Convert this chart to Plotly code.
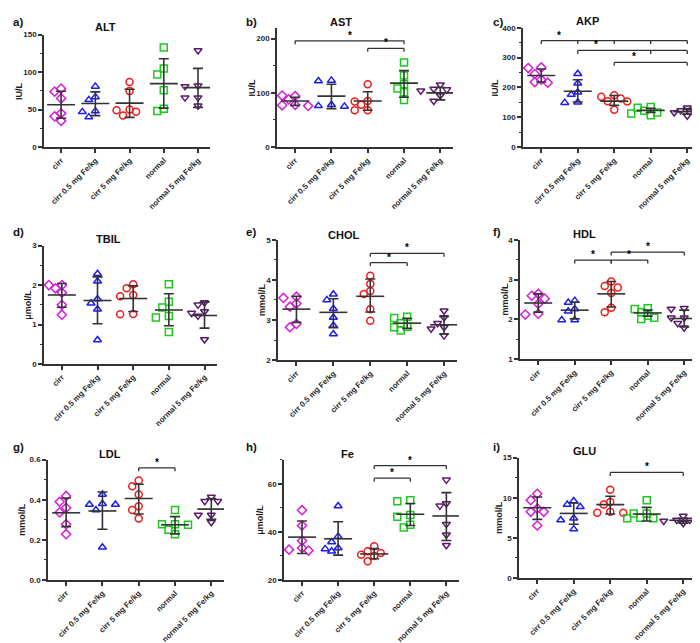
import plotly.graph_objects as go

W, H = 700, 643
groups = ["cirr", "cirr 0.5 mg Fe/kg", "cirr 5 mg Fe/kg", "normal", "normal 5 mg Fe/kg"]

# ---------------- data ----------------
alt_vals = [[78, 74, 65, 45, 41, 35], [81, 67, 63, 48, 47, 40], [87, 75, 50, 49, 47, 42],
            [133, 105, 97, 76, 51, 48], [129, 82, 81, 66, 66, 55]]
alt_mean = [56.5, 58.2, 58.7, 84.7, 79.4]
alt_hi = [74.5, 73.7, 77.2, 117.8, 105.0]
alt_lo = [38.4, 42.0, 39.7, 52.0, 53.0]

ast_vals = [[94, 95, 88, 78, 77, 76], [123, 122, 78, 76, 75, 77], [116, 85, 84, 78, 68, 68],
            [156, 132, 116, 108, 101, 87], [115, 107, 106, 104, 95, 85]]
ast_mean = [85, 94, 85, 118, 100]
ast_hi = [92, 116, 102, 141, 110]
ast_lo = [77, 71, 68, 92, 87]

akp_vals = [[267, 265, 245, 226, 218, 216], [246, 214, 184, 176, 150, 149], [174, 169, 163, 154, 153, 125],
            [134, 132, 122, 116, 113, 107], [132, 123, 121, 116, 110, 105]]
akp_mean = [240, 187, 154, 123, 119]
akp_hi = [262, 226, 173, 130, 129]
akp_lo = [218, 151, 140, 116, 110]

tbil_vals = [[2.0, 2.0, 1.92, 1.81, 1.5, 1.25], [2.29, 2.1, 1.65, 1.54, 1.39, 0.61], [2.02, 1.92, 1.75, 1.72, 1.27, 1.26],
             [2.02, 1.58, 1.43, 1.22, 1.18, 0.81], [1.56, 1.5, 1.33, 1.29, 1.22, 0.62]]
tbil_mean = [1.75, 1.61, 1.66, 1.37, 1.23]
tbil_hi = [2.04, 2.21, 1.98, 1.78, 1.57]
tbil_lo = [1.44, 1.02, 1.33, 0.97, 0.91]

chol_vals = [[3.58, 3.55, 3.41, 3.33, 2.9, 2.82], [3.64, 3.5, 3.28, 3.06, 2.86, 2.65], [4.1, 3.9, 3.72, 3.65, 3.27, 2.98],
             [3.08, 3.05, 2.92, 2.83, 2.82, 2.74], [3.23, 3.06, 2.92, 2.82, 2.78, 2.61]]
chol_mean = [3.27, 3.19, 3.59, 2.92, 2.88]
chol_hi = [3.59, 3.53, 4.02, 3.04, 3.09]
chol_lo = [2.94, 2.81, 3.2, 2.79, 2.65]

hdl_vals = [[2.64, 2.59, 2.52, 2.39, 2.14, 2.12], [2.47, 2.42, 2.26, 2.2, 1.98, 1.98], [2.95, 2.84, 2.8, 2.66, 2.29, 2.18],
            [2.28, 2.26, 2.18, 2.09, 2.04, 2.01], [2.28, 2.26, 2.04, 2.04, 1.9, 1.79]]
hdl_mean = [2.41, 2.23, 2.64, 2.16, 2.02]
hdl_hi = [2.64, 2.43, 2.95, 2.23, 2.23]
hdl_lo = [2.18, 2.01, 2.31, 2.08, 1.81]

ldl_vals = [[0.419, 0.39, 0.36, 0.337, 0.278, 0.228], [0.426, 0.38, 0.376, 0.376, 0.349, 0.163],
            [0.496, 0.467, 0.426, 0.368, 0.349, 0.307], [0.349, 0.278, 0.278, 0.275, 0.25, 0.228],
            [0.414, 0.393, 0.393, 0.324, 0.324, 0.288]]
ldl_mean = [0.335, 0.344, 0.406, 0.275, 0.353]
ldl_hi = [0.409, 0.439, 0.477, 0.316, 0.406]
ldl_lo = [0.266, 0.253, 0.329, 0.23, 0.302]

fe_vals = [[49.0, 42.6, 36.3, 33.3, 32.6, 32.2], [50.7, 38.1, 35.8, 33.3, 32.9, 31.9], [34.0, 31.9, 31.2, 30.5, 29.9, 27.8],
           [53.1, 52.7, 47.0, 46.3, 42.9, 41.8], [61.6, 51.8, 50.8, 43.2, 38.8, 34.4]]
fe_mean = [37.8, 37.1, 30.8, 47.3, 46.6]
fe_hi = [44.5, 44.2, 33.0, 51.8, 56.3]
fe_lo = [31.0, 30.3, 28.8, 42.6, 36.4]

glu_vals = [[10.5, 9.7, 8.66, 8.25, 8.25, 6.54], [9.6, 9.15, 8.87, 7.44, 7.23, 6.09], [11.0, 9.48, 9.15, 8.25, 8.13, 8.13],
            [9.69, 8.05, 8.05, 7.52, 7.44, 7.44], [7.72, 7.23, 7.23, 7.1, 7.03, 6.82]]
glu_mean = [8.75, 8.05, 9.15, 7.97, 7.19]
glu_hi = [10.1, 9.36, 10.18, 8.8, 7.44]
glu_lo = [7.3, 6.7, 7.97, 7.1, 6.83]

# significance comparisons: (first group, last group, groups with ticks, level, star position)
ast_sig = [(0, 3, [0, 3], 196, 1.5), (2, 3, [2, 3], 182, 2.5)]
akp_sig = [(0, 4, [0, 1, 2, 3, 4], 357, 0.5), (1, 4, [1, 3, 4], 324, 1.5), (2, 4, [2, 4], 284, 2.55)]
chol_sig = [(2, 4, [2, 4], 4.66, 3.0), (2, 3, [2, 3], 4.43, 2.5)]
hdl_sig = [(1, 2, [1, 2], 3.49, 1.5), (2, 4, [2, 4], 3.69, 3.0), (2, 3, [2, 3], 3.49, 2.5)]
ldl_sig = [(2, 3, [2, 3], 0.559, 2.5)]
fe_sig = [(2, 4, [2, 4], 67.5, 3.0), (2, 3, [2, 3], 62.3, 2.5)]
glu_sig = [(2, 4, [2, 4], 13.16, 3.0)]

# ---------------- styling / layout ----------------
colors = ["#D61ED6", "#1C1CF2", "#F21A1A", "#1FC81F", "#5C1A6E"]
symbols = ["diamond-open", "triangle-up-open", "circle-open", "square-open", "triangle-down-open"]
TXT = "#1f1f1f"
AX = "#333333"
FONT = "Liberation Sans, Arial, sans-serif"

panels = [
    dict(lab="a)", title="ALT", ytitle="IU/L", vals=alt_vals, mean=alt_mean, hi=alt_hi, lo=alt_lo, sig=[],
         yr=[0, 150], dt=50, t0=0, mdt=25, fmt="", px=(36, 202, 23, 137), lpos=(3, 10), tpos=(97, 15), ytp=11),
    dict(lab="b)", title="AST", ytitle="IU/L", vals=ast_vals, mean=ast_mean, hi=ast_hi, lo=ast_lo, sig=ast_sig,
         yr=[0, 220], dt=100, t0=0, mdt=50, fmt="", px=(269, 445, 16, 137), lpos=(236, 10), tpos=(333, 10), ytp=244),
    dict(lab="c)", title="AKP", ytitle="IU/L", vals=akp_vals, mean=akp_mean, hi=akp_hi, lo=akp_lo, sig=akp_sig,
         yr=[0, 400], dt=100, t0=0, mdt=50, fmt="", px=(515, 692, 16, 137), lpos=(483, 10), tpos=(579, 9), ytp=487),
    dict(lab="d)", title="TBIL", ytitle="μmol/L", vals=tbil_vals, mean=tbil_mean, hi=tbil_hi, lo=tbil_lo, sig=[],
         yr=[0, 3], dt=1, t0=0, mdt=0.5, fmt="", px=(36, 209, 237, 357), lpos=(3, 223), tpos=(100, 230), ytp=20),
    dict(lab="e)", title="CHOL", ytitle="mmol/L", vals=chol_vals, mean=chol_mean, hi=chol_hi, lo=chol_lo, sig=chol_sig,
         yr=[2, 5], dt=1, t0=2, mdt=0.5, fmt="", px=(270, 449, 231, 353), lpos=(236, 223), tpos=(335, 226), ytp=254),
    dict(lab="f)", title="HDL", ytitle="mmol/L", vals=hdl_vals, mean=hdl_mean, hi=hdl_hi, lo=hdl_lo, sig=hdl_sig,
         yr=[1, 4], dt=1, t0=1, mdt=0.5, fmt="", px=(512, 689, 231, 352), lpos=(483, 223), tpos=(576, 225), ytp=497),
    dict(lab="g)", title="LDL", ytitle="mmol/L", vals=ldl_vals, mean=ldl_mean, hi=ldl_hi, lo=ldl_lo, sig=ldl_sig,
         yr=[0, 0.6], dt=0.2, t0=0, mdt=0.1, fmt=".1f", px=(40, 216, 454, 576), lpos=(3, 441), tpos=(102, 448), ytp=14),
    dict(lab="h)", title="Fe", ytitle="μmol/L", vals=fe_vals, mean=fe_mean, hi=fe_hi, lo=fe_lo, sig=fe_sig,
         yr=[20, 70], dt=20, t0=20, mdt=10, fmt="", px=(276, 451, 454, 576), lpos=(236, 441), tpos=(339, 448), ytp=252),
    dict(lab="i)", title="GLU", ytitle="mmol/L", vals=glu_vals, mean=glu_mean, hi=glu_hi, lo=glu_lo, sig=glu_sig,
         yr=[0, 15], dt=5, t0=0, mdt=2.5, fmt="", px=(511, 688, 452, 574), lpos=(483, 441), tpos=(576, 445), ytp=491),
]

XR = [-0.5, 4.35]
fig = go.Figure()
annotations = []
shapes = []
layout = {}

for i, p in enumerate(panels):
    k = "" if i == 0 else str(i + 1)
    xa, ya = "x" + k, "y" + k
    x0, x1, y0, y1 = p["px"]
    wpx, hpx = x1 - x0, y1 - y0
    pxx = wpx / (XR[1] - XR[0])
    pxy = hpx / (p["yr"][1] - p["yr"][0])

    layout["xaxis" + k] = dict(
        domain=[x0 / W, x1 / W], range=XR, anchor=ya, tickmode="array",
        tickvals=list(range(5)), ticktext=groups, tickangle=-45,
        showline=True, linecolor=AX, linewidth=1.5, ticks="outside", ticklen=4,
        tickwidth=1.5, tickcolor=AX, showgrid=False, zeroline=False, fixedrange=True,
        tickfont=dict(family=FONT, size=7.8, color=TXT, weight="bold"))
    layout["yaxis" + k] = dict(
        domain=[1 - y1 / H, 1 - y0 / H], range=p["yr"], anchor=xa, tick0=p["t0"], dtick=p["dt"],
        tickformat=p["fmt"], showline=True, linecolor=AX, linewidth=1.5, ticks="outside",
        ticklen=4, tickwidth=1.5, tickcolor=AX, showgrid=False, zeroline=False,
        minor=dict(dtick=p["mdt"], tick0=p["t0"], ticks="outside", ticklen=2.5, tickwidth=1.2, tickcolor=AX),
        tickfont=dict(family=FONT, size=8, color=TXT, weight="bold"))

    for g in range(5):
        vals = p["vals"][g]
        # simple beeswarm to spread overlapping points horizontally
        placed = []
        xs = []
        step, dmin = 6.5, 6.8
        for v in vals:
            ypx = v * pxy
            for s in [0, -1, 1, -2, 2, -3, 3]:
                xpx = s * step
                if all((xpx - a) ** 2 + (ypx - b) ** 2 >= dmin ** 2 for a, b in placed):
                    placed.append((xpx, ypx))
                    xs.append(g + xpx / pxx)
                    break
        fig.add_trace(go.Scatter(
            x=xs, y=vals, mode="markers", xaxis=xa, yaxis=ya, showlegend=False, cliponaxis=False,
            marker=dict(symbol=symbols[g], size=7, color=colors[g], line=dict(color=colors[g], width=1.5))))
        m = p["mean"][g]
        fig.add_trace(go.Scatter(
            x=[g], y=[m], mode="markers", xaxis=xa, yaxis=ya, showlegend=False,
            marker=dict(symbol="line-ew", size=20, color=AX, line=dict(color=AX, width=1.6)),
            error_y=dict(type="data", symmetric=False, array=[p["hi"][g] - m],
                         arrayminus=[m - p["lo"][g]], width=5, thickness=1.6, color=AX)))

    # significance brackets
    tdrop = 3.5 / pxy
    for (ga, gb, ticks, lev, spos) in p["sig"]:
        shapes.append(dict(type="line", xref=xa, yref=ya, x0=ga, x1=gb, y0=lev, y1=lev,
                           line=dict(color=AX, width=1.3)))
        for t in ticks:
            shapes.append(dict(type="line", xref=xa, yref=ya, x0=t, x1=t, y0=lev, y1=lev - tdrop,
                               line=dict(color=AX, width=1.3)))
        annotations.append(dict(xref=xa, yref=ya, x=spos, y=lev, text="*", showarrow=False,
                                yanchor="bottom", yshift=-2,
                                font=dict(family=FONT, size=10, color="#000000", weight="bold")))

    # panel letter, title, y title
    annotations.append(dict(xref="paper", yref="paper", x=p["lpos"][0] / W, y=1 - p["lpos"][1] / H,
                            text=p["lab"], showarrow=False, xanchor="left", yanchor="middle",
                            font=dict(family=FONT, size=11.5, color="#111", weight="bold")))
    annotations.append(dict(xref="paper", yref="paper", x=p["tpos"][0] / W, y=1 - p["tpos"][1] / H,
                            text=p["title"], showarrow=False, xanchor="center", yanchor="middle",
                            font=dict(family=FONT, size=11, color="#111", weight="bold")))
    annotations.append(dict(xref="paper", yref="paper", x=p["ytp"] / W, y=1 - (y0 + y1) / 2 / H,
                            text=p["ytitle"], showarrow=False, textangle=-90, xanchor="center",
                            yanchor="middle", font=dict(family=FONT, size=9, color=TXT, weight="bold")))

fig.update_layout(width=W, height=H, margin=dict(l=0, r=0, t=0, b=0), autosize=False,
                  plot_bgcolor="white", paper_bgcolor="white",
                  annotations=annotations, shapes=shapes, **layout)
fig.write_html("out.html")
